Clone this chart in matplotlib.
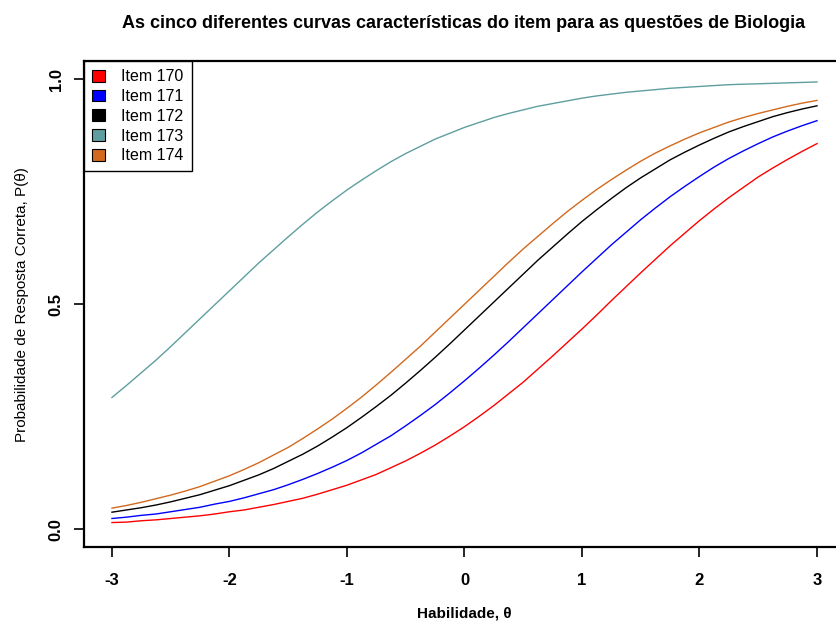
import matplotlib
matplotlib.use('Agg')
import matplotlib.pyplot as plt
from matplotlib.patches import Patch

plt.rcParams['font.family'] = ['Liberation Sans', 'DejaVu Sans']

# habilidade (theta), curve values every 0.125
theta = [-3.0, -2.875, -2.75, -2.625, -2.5, -2.375, -2.25, -2.125,
         -2.0, -1.875, -1.75, -1.625, -1.5, -1.375, -1.25, -1.125,
         -1.0, -0.875, -0.75, -0.625, -0.5, -0.375, -0.25, -0.125,
         0.0, 0.125, 0.25, 0.375, 0.5, 0.625, 0.75, 0.875,
         1.0, 1.125, 1.25, 1.375, 1.5, 1.625, 1.75, 1.875,
         2.0, 2.125, 2.25, 2.375, 2.5, 2.625, 2.75, 2.875, 3.0]

item_170 = [0.015, 0.016, 0.019, 0.021, 0.024, 0.027, 0.030, 0.034,
            0.039, 0.043, 0.049, 0.055, 0.062, 0.069, 0.078, 0.088,
            0.098, 0.110, 0.122, 0.137, 0.152, 0.169, 0.187, 0.207,
            0.228, 0.251, 0.275, 0.301, 0.327, 0.356, 0.385, 0.415,
            0.445, 0.476, 0.508, 0.539, 0.570, 0.600, 0.630, 0.658,
            0.686, 0.712, 0.737, 0.760, 0.783, 0.803, 0.822, 0.840, 0.857]
item_171 = [0.024, 0.027, 0.031, 0.034, 0.039, 0.044, 0.049, 0.056,
            0.062, 0.070, 0.079, 0.088, 0.099, 0.111, 0.124, 0.138,
            0.153, 0.170, 0.189, 0.208, 0.230, 0.253, 0.277, 0.303,
            0.330, 0.358, 0.387, 0.417, 0.448, 0.479, 0.510, 0.541,
            0.572, 0.602, 0.632, 0.660, 0.688, 0.714, 0.739, 0.762,
            0.784, 0.805, 0.824, 0.841, 0.857, 0.872, 0.885, 0.897, 0.908]
item_172 = [0.038, 0.043, 0.048, 0.054, 0.061, 0.069, 0.077, 0.087,
            0.097, 0.109, 0.121, 0.135, 0.151, 0.167, 0.185, 0.205,
            0.226, 0.249, 0.273, 0.298, 0.325, 0.353, 0.382, 0.412,
            0.443, 0.474, 0.505, 0.536, 0.567, 0.598, 0.627, 0.656,
            0.684, 0.710, 0.735, 0.759, 0.781, 0.801, 0.821, 0.838,
            0.854, 0.869, 0.883, 0.895, 0.906, 0.917, 0.926, 0.934, 0.941]
item_173 = [0.293, 0.320, 0.348, 0.376, 0.406, 0.437, 0.468, 0.499,
            0.530, 0.561, 0.592, 0.621, 0.650, 0.678, 0.705, 0.730,
            0.754, 0.776, 0.797, 0.817, 0.835, 0.851, 0.867, 0.880,
            0.893, 0.904, 0.915, 0.924, 0.932, 0.940, 0.946, 0.952,
            0.958, 0.963, 0.967, 0.971, 0.974, 0.977, 0.980, 0.982,
            0.984, 0.986, 0.988, 0.989, 0.990, 0.991, 0.992, 0.993, 0.994]
item_174 = [0.047, 0.053, 0.060, 0.068, 0.076, 0.085, 0.095, 0.107,
            0.119, 0.133, 0.148, 0.165, 0.182, 0.202, 0.223, 0.245,
            0.269, 0.294, 0.321, 0.349, 0.378, 0.407, 0.438, 0.469,
            0.500, 0.531, 0.562, 0.593, 0.623, 0.651, 0.679, 0.706,
            0.731, 0.755, 0.777, 0.798, 0.818, 0.836, 0.852, 0.867,
            0.881, 0.893, 0.905, 0.915, 0.924, 0.932, 0.940, 0.947, 0.953]

labels = ['Item 170', 'Item 171', 'Item 172', 'Item 173', 'Item 174']
colors = ['red', 'blue', 'black', 'cadetblue', 'chocolate']
series = [item_170, item_171, item_172, item_173, item_174]

fig = plt.figure(figsize=(8.36, 6.22), dpi=100)
ax = fig.add_axes([0.1002, 0.1201, 0.9108, 0.7814])

for vals, col in zip(series, colors):
    ax.plot(theta, vals, color=col, lw=1.0)

ax.set_xlim(-3.24, 3.24)
ax.set_ylim(-0.04, 1.04)
ax.set_xticks([-3, -2, -1, 0, 1, 2, 3])
ax.set_xticklabels(['-3', '-2', '-1', '0', '1', '2', '3'], fontweight='bold')
ax.set_yticks([0.0, 0.5, 1.0])
ax.set_yticklabels(['0.0', '0.5', '1.0'], rotation=90, va='center', fontweight='bold')
ax.tick_params(axis='both', length=7.5, width=1.2, labelsize=12)
ax.tick_params(axis='x', pad=11)
ax.tick_params(axis='y', pad=7)
for sp in ax.spines.values():
    sp.set_linewidth(1.6)

ax.set_xlabel('Habilidade, θ', fontweight='bold', fontsize=11, labelpad=13.5)
ax.set_ylabel('Probabilidade de Resposta Correta, P(θ)', fontsize=11, labelpad=14)
fig.text(0.555, 0.963, 'As cinco diferentes curvas características do item para as questões de Biologia',
         ha='center', va='center', fontsize=13, fontweight='bold')

handles = [Patch(facecolor=c, edgecolor='black', lw=0.8) for c in colors]
leg = ax.legend(handles, labels, loc='upper left', bbox_to_anchor=(0, 1), borderaxespad=0,
                fancybox=False, framealpha=1, edgecolor='black', fontsize=11.5,
                handlelength=0.85, handleheight=0.75, handletextpad=1.0,
                labelspacing=0.3, borderpad=0.5)
leg.get_frame().set_linewidth(1.0)

plt.savefig('out.png', dpi=100)
plt.close()
